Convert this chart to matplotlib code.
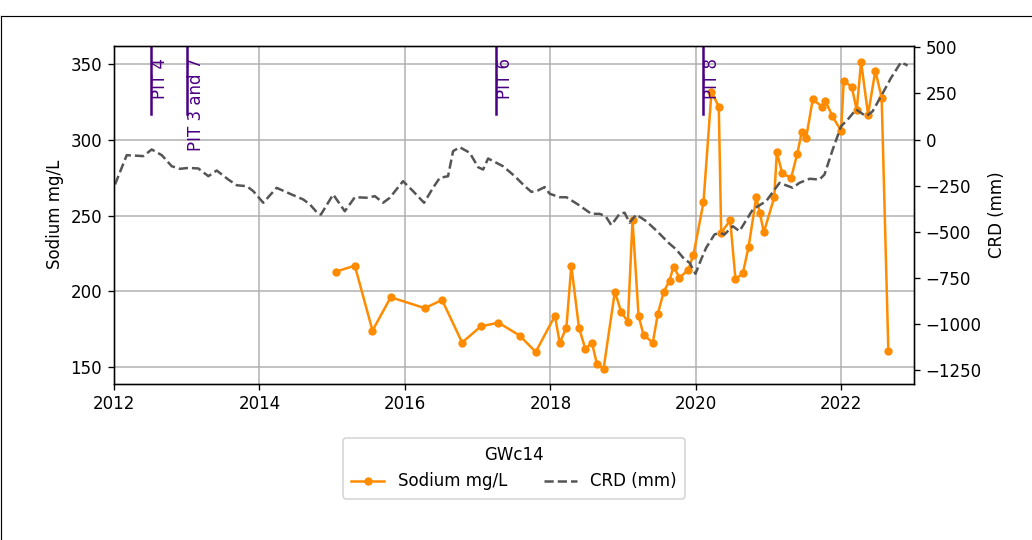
import datetime as dt
import matplotlib
matplotlib.use("Agg")
import matplotlib.pyplot as plt
import matplotlib.dates as mdates
from matplotlib.lines import Line2D

# ---------------- data (decimal years) ----------------
sodium_years = [2015.051, 2015.312, 2015.555, 2015.806, 2016.273, 2016.511, 2016.786,
                2017.043, 2017.286, 2017.578, 2017.798, 2018.063, 2018.128, 2018.220,
                2018.288, 2018.393, 2018.481, 2018.571, 2018.640, 2018.732, 2018.887,
                2018.975, 2019.066, 2019.130, 2019.213, 2019.282, 2019.409, 2019.478,
                2019.560, 2019.639, 2019.694, 2019.776, 2019.896, 2019.968, 2020.106,
                2020.216, 2020.316, 2020.349, 2020.473, 2020.545, 2020.646, 2020.724,
                2020.830, 2020.879, 2020.934, 2021.077, 2021.113, 2021.187, 2021.310,
                2021.393, 2021.456, 2021.516, 2021.607, 2021.736, 2021.782, 2021.878,
                2021.997, 2022.033, 2022.143, 2022.212, 2022.272, 2022.368, 2022.468,
                2022.555, 2022.647]
sodium_values = [213.1, 217.0, 174.2, 196.2, 189.0, 194.4, 166.3,
                 177.0, 179.4, 170.9, 160.1, 184.0, 166.0, 176.1,
                 217.0, 176.1, 162.1, 166.3, 152.2, 149.1, 199.9,
                 186.3, 180.1, 247.1, 184.0, 171.3, 166.3, 185.2,
                 199.9, 207.1, 216.4, 209.1, 214.2, 224.1, 258.8,
                 331.7, 321.9, 238.8, 246.9, 208.0, 212.0, 229.1,
                 262.1, 252.0, 239.0, 262.1, 291.8, 277.9, 275.0,
                 290.7, 305.0, 301.4, 326.7, 321.9, 325.6, 315.5,
                 306.0, 338.8, 335.0, 319.7, 351.5, 316.6, 345.6,
                 327.8, 161.0]

crd_years = [2012.015, 2012.176, 2012.404, 2012.519, 2012.657, 2012.794, 2012.908,
             2013.022, 2013.159, 2013.297, 2013.412, 2013.571, 2013.687, 2013.824,
             2013.915, 2014.052, 2014.236, 2014.442, 2014.602, 2014.694, 2014.808,
             2014.845, 2015.014, 2015.174, 2015.312, 2015.495, 2015.587, 2015.701,
             2015.793, 2015.975, 2016.113, 2016.264, 2016.387, 2016.479, 2016.593,
             2016.662, 2016.754, 2016.891, 2017.005, 2017.074, 2017.143, 2017.349,
             2017.510, 2017.647, 2017.739, 2017.830, 2017.922, 2017.990, 2018.128,
             2018.220, 2018.379, 2018.563, 2018.677, 2018.760, 2018.838, 2018.952,
             2019.021, 2019.089, 2019.181, 2019.319, 2019.456, 2019.639, 2019.731,
             2019.845, 2019.914, 2019.996, 2020.074, 2020.143, 2020.257, 2020.325,
             2020.394, 2020.508, 2020.600, 2020.783, 2020.967, 2021.150, 2021.332,
             2021.424, 2021.562, 2021.699, 2021.768, 2021.882, 2021.997, 2022.088,
             2022.203, 2022.340, 2022.431, 2022.547, 2022.684, 2022.821, 2022.912]
crd_values = [-244, -85, -90, -54, -85, -145, -159,
              -154, -157, -199, -168, -217, -248, -253,
              -280, -343, -262, -298, -325, -352, -403,
              -407, -298, -389, -313, -316, -307, -343,
              -316, -226, -280, -343, -262, -208, -199,
              -63, -42, -72, -150, -163, -103, -145,
              -199, -253, -284, -276, -258, -294, -313,
              -313, -352, -403, -403, -416, -464, -403,
              -397, -451, -407, -443, -493, -565, -596,
              -650, -668, -728, -650, -587, -515, -506,
              -515, -470, -497, -379, -334, -235, -262,
              -235, -213, -217, -190, -54, 72, 108,
              163, 126, 153, 235, 334, 419, 401]

pit_years = [2012.51, 2013.008, 2017.249, 2020.096]
pit_labels = ["PIT 4", "PIT 3 and 7", "PIT 6", "PIT 8"]

site_name = "GWc14"


def to_date(y):
    year = int(y)
    start = dt.datetime(year, 1, 1)
    end = dt.datetime(year + 1, 1, 1)
    return start + (end - start) * (y - year)


sodium_dates = [to_date(y) for y in sodium_years]
crd_dates = [to_date(y) for y in crd_years]
pit_dates = [to_date(y) for y in pit_years]

# ---------------- figure ----------------
fig = plt.figure(figsize=(8.6, 4.5), dpi=120)
ax1 = fig.add_axes([113.9 / 1032, 1 - 383.5 / 540, (914 - 113.9) / 1032, (383.5 - 46) / 540])
ax2 = ax1.twinx()

l1, = ax1.plot(sodium_dates, sodium_values, color="darkorange", marker="o",
               markersize=4, linewidth=1.5, label="Sodium mg/L")
l2, = ax2.plot(crd_dates, crd_values, color="#555555", linestyle="--",
               linewidth=1.5, label="CRD (mm)")

ax1.set_ylim(139.3, 361.9)
ax2.set_ylim(-1323, 507)
ax1.set_xlim(dt.datetime(2012, 1, 1), dt.datetime(2023, 1, 1))
ax1.xaxis.set_major_locator(mdates.YearLocator(2))
ax1.xaxis.set_major_formatter(mdates.DateFormatter("%Y"))
ax1.set_yticks([150, 200, 250, 300, 350])
ax2.set_yticks([-1250, -1000, -750, -500, -250, 0, 250, 500])

ax1.grid(True, color="#b0b0b0", linewidth=0.9)
ax1.set_ylabel("Sodium mg/L")
ax2.set_ylabel("CRD (mm)")

for d, lab in zip(pit_dates, pit_labels):
    ax1.axvline(d, ymin=0.8, ymax=1.0, color="indigo", linewidth=1.5)
    ax1.text(d, 0.964, lab, rotation=90, ha="left", va="top", color="indigo",
             transform=ax1.get_xaxis_transform())

ax2.legend(handles=[l1, l2], title=site_name, loc="upper center",
           bbox_to_anchor=(0.5, -0.136), ncol=2, borderpad=0.5,
           columnspacing=2.2)

# figure frame lines (partial border seen in reference)
fig.add_artist(Line2D([1.2 / 1032, 1.0], [1 - 16 / 540, 1 - 16 / 540],
                      transform=fig.transFigure, color="black", linewidth=0.7))
fig.add_artist(Line2D([1.2 / 1032, 1.2 / 1032], [0.0, 1 - 16 / 540],
                      transform=fig.transFigure, color="black", linewidth=0.7))

fig.savefig("out.png", dpi=120)
